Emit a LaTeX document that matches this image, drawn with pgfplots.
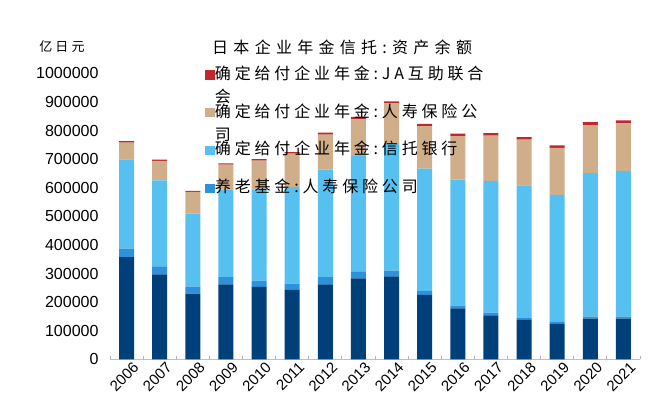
\documentclass[border=0pt]{standalone}
\usepackage{pgfplots}
\pgfplotsset{compat=1.18}
\usepackage{pgfplotstable}
\usepackage{fontspec}
\setmainfont{Liberation Sans}
\newfontfamily\cjk[LetterSpace=24]{Noto Sans CJK SC}
\newfontfamily\cjkt[LetterSpace=33]{Noto Sans CJK SC}
\definecolor{cnavy}{RGB}{0,64,122}
\definecolor{cblue}{RGB}{46,145,219}
\definecolor{ccyan}{RGB}{86,193,240}
\definecolor{ctan}{RGB}{208,174,138}
\definecolor{cred}{RGB}{192,40,45}
\pgfplotstableread{
x navy blue cyan tan red
0 357000 30000 312000 59000 5000
1 297000 28000 301000 68000 4000
2 230000 24000 255000 76000 4000
3 262000 25000 306000 88000 4000
4 253000 22000 318000 102000 5000
5 243000 22000 337000 117000 5000
6 262000 25000 376000 123000 7000
7 283000 23000 404000 129000 9000
8 290000 20000 446000 139000 7000
9 225000 14000 428000 148000 8000
10 178000 10000 440000 152000 9000
11 154000 9000 461000 158000 9000
12 138000 6000 464000 160000 9000
13 124000 7000 444000 164000 9000
14 142000 7000 503000 167000 10000
15 142000 7000 510000 166000 10000
}\datatable
\begin{document}
\begin{tikzpicture}[x=1pt,y=1pt]
\useasboundingbox (-110pt,-58.7pt) rectangle (538pt,359.3pt);
\begin{axis}[
  at={(0,0)}, anchor=south west,
  scale only axis, width=530pt, height=286pt,
  ybar stacked, bar width=15pt,
  xmin=-0.5, xmax=15.5, ymin=0, ymax=1000000,
  xtick=data,
  xticklabels={2006,2007,2008,2009,2010,2011,2012,2013,2014,2015,2016,2017,2018,2019,2020,2021},
  minor xtick={-0.5,0.5,...,15.5},
  major tick length=0pt, minor tick length=3pt,
  tick align=inside,
  x tick style={draw=gray!60},
  minor x tick style={draw=gray!60, line width=0.8pt},
  ytick={0,100000,...,1000000},
  scaled y ticks=false,
  yticklabel style={/pgf/number format/fixed, /pgf/number format/1000 sep={}, font=\fontsize{16}{16}\selectfont, xshift=-8pt},
  /pgf/number format/assume math mode=true,
  xticklabel style={rotate=45, anchor=north east, font=\fontsize{15}{15}\selectfont, xshift=6pt, yshift=-2pt},
  axis x line*=bottom, axis y line*=left,
  x axis line style={draw=gray!50, line width=1.2pt},
  y axis line style={draw=none},
  y tick style={draw=none},
  legend style={at={(rel axis cs:0.179,1.025)}, anchor=north west, draw=none, fill=none,
    font=\cjk\fontsize{16}{16}\selectfont, inner sep=0pt, row sep=20.8pt,
    nodes={inner sep=1pt, text height=12pt, text depth=3pt},
    cells={anchor=west}},
  clip=false,
]
\addplot[fill=cnavy, draw=none, forget plot] table[x=x, y=navy] {\datatable};
\addplot[fill=cblue, draw=none, forget plot] table[x=x, y=blue] {\datatable};
\addplot[fill=ccyan, draw=none, forget plot] table[x=x, y=cyan] {\datatable};
\addplot[fill=ctan, draw=none, forget plot] table[x=x, y=tan] {\datatable};
\addplot[fill=cred, draw=none, forget plot] table[x=x, y=red] {\datatable};
\addlegendimage{legend image code/.code={\fill[cred] (0pt,-4pt) rectangle (8.5pt,4.5pt);}}
\addlegendentry{\rlap{\smash{\raisebox{-23pt}{会}}}确定给付企业年金:JA互助联合}
\addlegendimage{legend image code/.code={\fill[ctan] (0pt,-4pt) rectangle (8.5pt,4.5pt);}}
\addlegendentry{\rlap{\smash{\raisebox{-23pt}{司}}}确定给付企业年金:人寿保险公}
\addlegendimage{legend image code/.code={\fill[ccyan] (0pt,-4pt) rectangle (8.5pt,4.5pt);}}
\addlegendentry{确定给付企业年金:信托银行}
\addlegendimage{legend image code/.code={\fill[cblue] (0pt,-4pt) rectangle (8.5pt,4.5pt);}}
\addlegendentry{养老基金:人寿保险公司}
\node[anchor=west, inner sep=0pt] at (rel axis cs:0.1925,1.092) {\cjkt\fontsize{16}{16}\selectfont 日本企业年金信托:资产余额};
\node[inner sep=0pt] at (rel axis cs:-0.0906,1.092) {\cjk\fontsize{13}{13}\selectfont 亿日元};
\end{axis}
\end{tikzpicture}
\end{document}
